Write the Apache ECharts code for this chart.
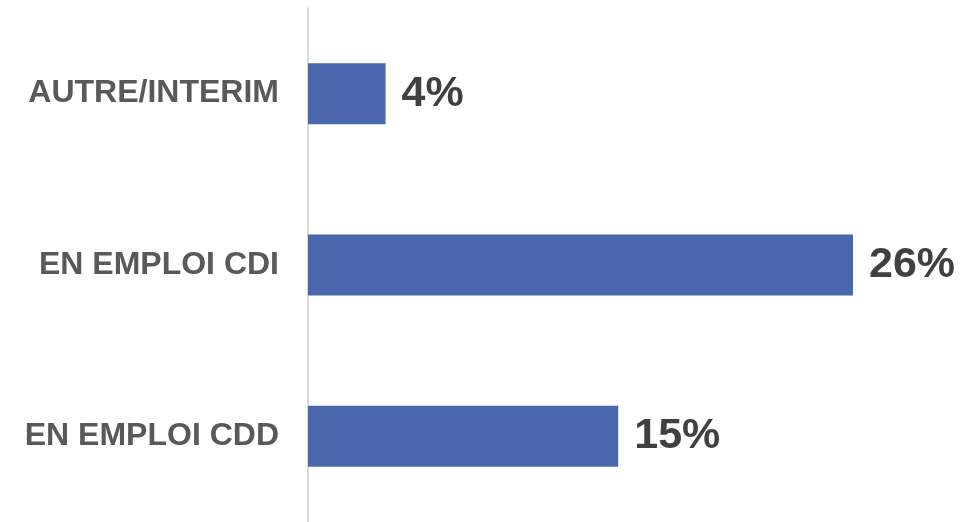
<!DOCTYPE html>
<html>
<head>
<meta charset="utf-8">
<script src="https://cdn.jsdelivr.net/npm/echarts@6/dist/echarts.min.js"></script>
<style>
  html, body { margin: 0; padding: 0; background: #fff; }
  #chart { width: 974px; height: 522px; }
</style>
</head>
<body>
<div id="chart"></div>
<script>
// categories listed bottom to top (category axis starts at the bottom)
const categories = ['EN EMPLOI CDD', 'EN EMPLOI CDI', 'AUTRE/INTERIM']
const shares = [14.8, 26.0, 3.7]

const chart = echarts.init(document.getElementById('chart'))
chart.setOption({
  animation: false,
  grid: { left: 308, top: 8, width: 545, height: 518 },
  xAxis: {
    type: 'value',
    min: 0,
    max: 26,
    show: false
  },
  yAxis: {
    type: 'category',
    data: categories,
    axisLine: { show: true, lineStyle: { color: '#d9d9d9', width: 2 } },
    axisTick: { show: false },
    axisLabel: {
      margin: 29,
      padding: [5, 0, 0, 0],
      color: '#595959',
      fontFamily: 'Liberation Sans, Arial, sans-serif',
      fontWeight: 'bold',
      fontSize: 32
    }
  },
  series: [{
    type: 'bar',
    data: shares,
    barWidth: 61,
    itemStyle: { color: '#4a67ae' },
    label: {
      show: true,
      position: 'right',
      distance: 16,
      padding: [7, 0, 0, 0],
      color: '#404040',
      fontFamily: 'Liberation Sans, Arial, sans-serif',
      fontWeight: 'bold',
      fontSize: 43,
      formatter: p => Math.round(p.value) + '%'
    }
  }]
})
</script>
</body>
</html>
